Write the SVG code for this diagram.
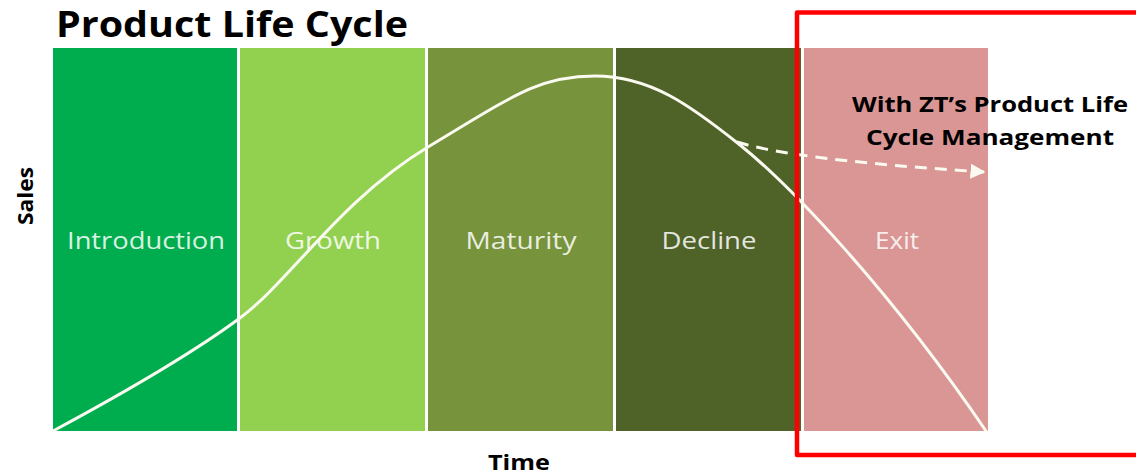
<svg xmlns="http://www.w3.org/2000/svg" width="1136" height="475" viewBox="0 0 1136 475">
  <defs>
    <style>
      .stage-label { font-family: "Open Sans", "Liberation Sans", sans-serif; font-size: 24px; fill: #FFFFFF; fill-opacity: 0.85; text-anchor: middle; }
      .bold { font-family: "Open Sans", "Liberation Sans", sans-serif; font-weight: bold; fill: #000000; }
      .curve { fill: none; stroke: #FAFAF0; stroke-width: 3; stroke-linecap: round; }
      .dash { fill: none; stroke: #FAFAF0; stroke-width: 3; stroke-dasharray: 12 8; }
    </style>
    <marker id="arrow" viewBox="0 0 10 10" refX="9" refY="5" markerWidth="5" markerHeight="5" markerUnits="strokeWidth" orient="auto">
      <path d="M0,0 L10,5 L0,10 Z" fill="#FAFAF0"/>
    </marker>
  </defs>
  <rect width="1136" height="475" fill="#FFFFFF"/>

  <text class="bold" x="56" y="37" font-size="35" textLength="352" lengthAdjust="spacingAndGlyphs">Product Life Cycle</text>

  <g id="stage-introduction">
    <rect x="53" y="48" width="184" height="383" fill="#00AD4E"/>
    <text class="stage-label" x="146" y="249" textLength="158" lengthAdjust="spacingAndGlyphs">Introduction</text>
  </g>
  <g id="stage-growth">
    <rect x="240" y="48" width="185" height="383" fill="#92D050"/>
    <text class="stage-label" x="333" y="249" textLength="96" lengthAdjust="spacingAndGlyphs">Growth</text>
  </g>
  <g id="stage-maturity">
    <rect x="428" y="48" width="185" height="383" fill="#77933C"/>
    <text class="stage-label" x="521" y="249" textLength="111" lengthAdjust="spacingAndGlyphs">Maturity</text>
  </g>
  <g id="stage-decline">
    <rect x="616" y="48" width="185" height="383" fill="#4F6228"/>
    <text class="stage-label" x="709" y="249" textLength="95" lengthAdjust="spacingAndGlyphs">Decline</text>
  </g>
  <g id="stage-exit">
    <rect x="804" y="48" width="184" height="383" fill="#DA9694"/>
    <text class="stage-label" x="897" y="249" textLength="44" lengthAdjust="spacingAndGlyphs">Exit</text>
  </g>

  <g id="connectors">
    <path id="sales-curve" class="curve" d="M53,431 C120,395 190,355 240,318 S340,200 428,147 S540,76 595,76 S690,105 740,145 S890,290 986,431"/>
    <path id="plm-arrow" class="dash" d="M737,142 Q795,160 984,172" marker-end="url(#arrow)"/>
  </g>

  <g id="plm-box">
    <path d="M1140,12.5 L797,12.5 L797,455 L1140,455" fill="none" stroke="#FF0000" stroke-width="4.5" stroke-linejoin="round"/>
    <text class="bold" font-size="22" text-anchor="middle" x="990" y="112" textLength="276" lengthAdjust="spacingAndGlyphs">With ZT’s Product Life</text>
    <text class="bold" font-size="22" text-anchor="middle" x="990" y="145" textLength="248" lengthAdjust="spacingAndGlyphs">Cycle Management</text>
  </g>

  <g id="axis-labels">
    <text class="bold" font-size="21" text-anchor="middle" transform="translate(33,196) rotate(-90)" textLength="58" lengthAdjust="spacingAndGlyphs">Sales</text>
    <text class="bold" font-size="21" text-anchor="middle" x="519" y="470" textLength="62" lengthAdjust="spacingAndGlyphs">Time</text>
  </g>
</svg>
